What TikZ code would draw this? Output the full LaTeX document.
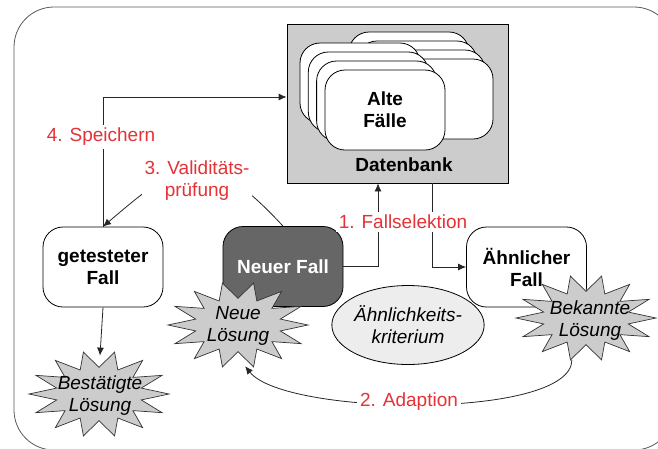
\documentclass[tikz,border=0pt]{standalone}
\usepackage{fontspec}
\setmainfont{Liberation Sans}
\usetikzlibrary{arrows.meta,shapes.geometric}

\definecolor{schrittrot}{RGB}{228,50,55}
\definecolor{dbgrau}{RGB}{204,204,204}
\definecolor{fallgrau}{RGB}{102,102,102}

\newcommand{\figfont}{\fontsize{19}{22}\selectfont}
\newcommand{\burst}[1]{%
  \begin{scope}[shift={(#1)}]
    \draw[burstline] (0:70 and 43)
      \foreach \k [evaluate=\k as \r using {1-0.38*mod(\k,2)}] in {1,...,27} {
        -- (\k*360/28:\r*70 and \r*43)} -- cycle;
  \end{scope}}

\begin{document}
\begin{tikzpicture}[x=1pt, y=-1pt, line width=0.8pt,
  every node/.style={font=\figfont, align=center},
  fall/.style={draw, rounded corners=20pt, minimum width=120pt,
               minimum height=80pt, inner sep=2pt, font=\figfont\bfseries},
  card/.style={draw, fill=white, rounded corners=20pt},
  schritt/.style={fill=white, text=schrittrot, inner sep=3pt},
  loesung/.style={ellipse, minimum width=130pt, minimum height=80pt,
                  inner sep=0pt, font=\figfont\itshape},
  burstline/.style={draw=black!80, fill=dbgrau, line width=0.7pt},
  conn/.style={draw=black!85, -{Latex[length=8pt,width=7pt]}}
]
\useasboundingbox (0,0) rectangle (658,448);
\draw[black!65, rounded corners=40pt] (14,7) rectangle (674,450);

\node[draw, fill=dbgrau, minimum width=221pt, minimum height=159pt, inner sep=0pt] (db) at (397.5,103.5) {};
\foreach \i in {0,...,3}
  \draw[card] (349+8*\i, 32+9*\i) rectangle +(120,80);
\foreach \i in {0,...,2}
  \draw[card] (300+8.3*\i, 43+9*\i) rectangle +(120,80);
\node[fall, fill=white] (alt) at (385,110) {Alte\\Fälle};
\node[font=\figfont\bfseries] (dbname) at (404,165) {Datenbank};

\node[fall] (getestet) at (103,267) {getesteter\\Fall};
\node[fall, fill=fallgrau, text=white] (neuer) at (283,266.5) {Neuer Fall};
\node[fall] (aehnl) at (526.5,267) {Ähnlicher\\Fall};
\node[draw, ellipse, fill=black!7, minimum width=119pt, minimum height=79pt,
      inner sep=0pt, font=\figfont\itshape] (krit) at (408,325) {Ähnlichkeits-\\kriterium};

\burst{238,325}
\node[loesung] (neulsg) at (238,326) {Neue\\Lösung};
\burst{99,394}
\node[loesung] (bestlsg) at (100,396) {Bestätigte\\Lösung};
\burst{586,318}
\node[loesung] (bekannt) at (590,321) {Bekannte\\Lösung};

\draw[conn] (neuer.east) -| ([xshift=-19.5pt]db.south);
\draw[conn] ([xshift=34.5pt]db.south) |- (aehnl.west);
\draw[conn] (neuer.north) .. controls +(-78,-85) and +(75,-64) .. (getestet.north);
\draw[conn] (getestet.north) |- ([yshift=6.5pt]db.west);
\draw[conn] (getestet.south) -- (bestlsg.north);
\draw[conn] (bekannt.245) .. controls +(0,60) and +(40,50) .. (neulsg.280);

\node[schritt] (fallsel) at (403,222) {1. Fallselektion};
\node[schritt] (adapt) at (409,402) {2. Adaption};
\node[schritt] (valid) at (197,181) {3. Validitäts-\\prüfung};
\node[schritt] (speich) at (101,137) {4. Speichern};
\end{tikzpicture}
\end{document}
